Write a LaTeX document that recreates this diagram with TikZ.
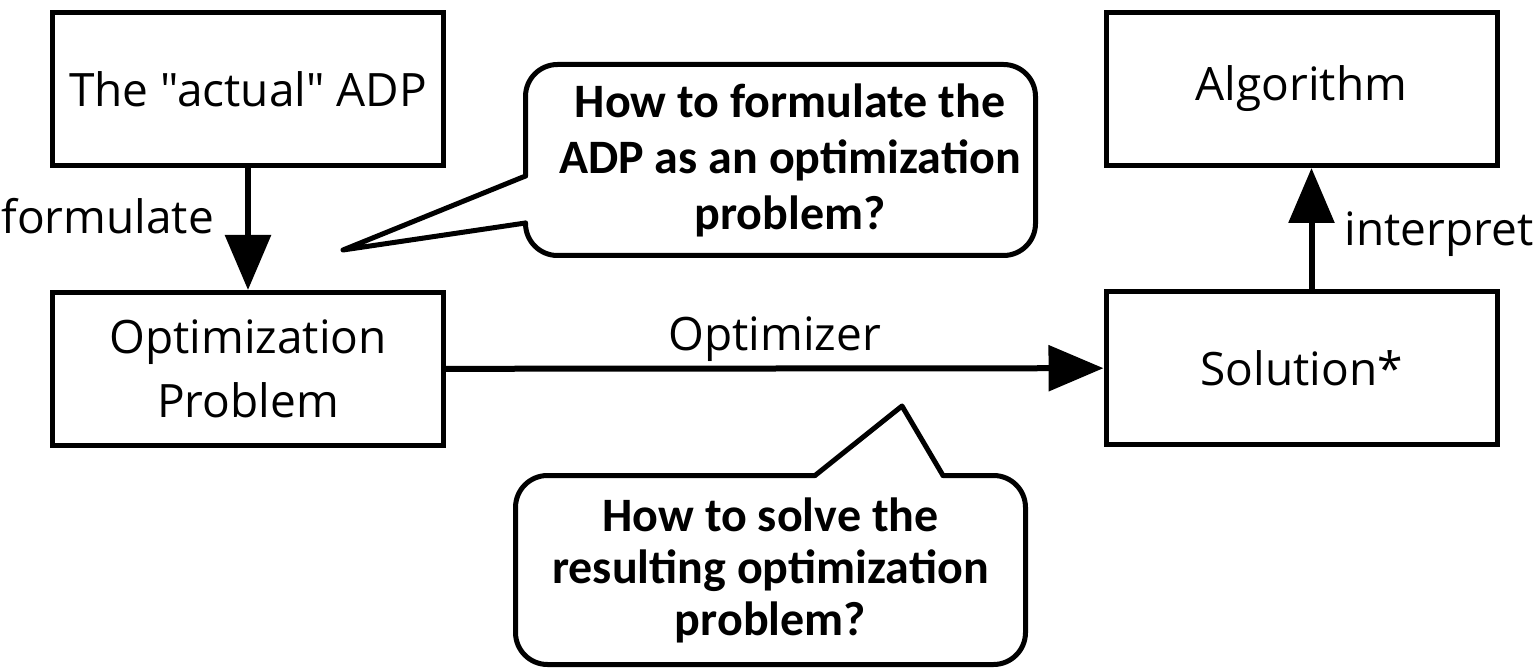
\documentclass[tikz,border=0pt]{standalone}
\usepackage{fontspec}
\setmainfont{Open Sans}[Ligatures=TeXOff]
\newfontfamily\bubblefont{Carlito}
\usetikzlibrary{arrows.meta,calc}

\begin{document}
\begin{tikzpicture}
[x=1pt,y=-1pt,>={Triangle[length=55pt,width=45pt]},
 box/.style={draw,line width=5pt,minimum width=391pt,minimum height=153pt,align=center,font=\fontsize{46}{64}\selectfont},
 lbl/.style={inner sep=0pt,font=\fontsize{46}{56}\selectfont},
 bubble/.style={align=center,inner sep=0pt,font=\bubblefont\bfseries\fontsize{48}{#1}\selectfont},
 outline/.style={line width=5pt,line join=round,line cap=round},
 flow/.style={line width=6pt,->}]

\useasboundingbox (0,0) rectangle (1540,668);

% the boxes
\node[box] (adp) at (248,89) {The "actual" ADP};
\node[box] (opt) at (248,369) {Optimization\\Problem};
\node[box] (alg) at (1301.5,89) {Algorithm};
\node[box] (sol) at (1301.5,368) {Solution*};

% the arrows between the boxes
\draw[flow] (adp) -- node[lbl,pos=.54,anchor=base east,xshift=-31pt] {formulate} (opt);
\draw[flow] (opt) -- node[lbl,midway,anchor=base,yshift=18pt] {Optimizer} (sol);
\draw[flow] ([xshift=10pt]sol.north) -- node[lbl,pos=.36,anchor=base west,xshift=30pt] {interpret} ([xshift=10pt]alg.south);

% the question bubbles
\node[bubble=56] (ask1) at (790,160) {How to formulate the\\ADP as an optimization\\problem?};
\node[bubble=52] (ask2) at (770.5,570) {How to solve the\\resulting optimization\\problem?};

% outline of the upper bubble
\coordinate (nw1) at (525.5,64.5);
\coordinate (se1) at (1035.5,255.5);
\coordinate (top1) at (525.5,176);
\coordinate (bot1) at (525.5,223);
\coordinate (tip1) at (343,250);
\draw[outline,rounded corners=32pt] (top1) -- (nw1) -| (se1) -| (bot1);
\draw[outline] (top1) -- (tip1) -- (bot1);

% outline of the lower bubble
\coordinate (nw2) at (515.5,475.5);
\coordinate (se2) at (1025.5,664.5);
\coordinate (left2) at (815,475.5);
\coordinate (right2) at (943,475.5);
\coordinate (tip2) at (902,406);
\draw[outline,rounded corners=32pt] (right2) -| (se2) -| (nw2) -- (left2);
\draw[outline] (left2) -- (tip2) -- (right2);

\end{tikzpicture}
\end{document}
